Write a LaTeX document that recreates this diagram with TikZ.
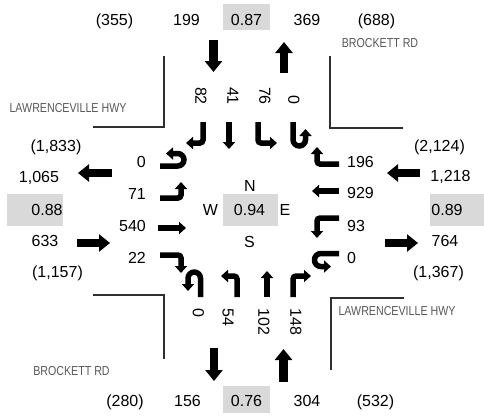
\documentclass[tikz,border=0pt]{standalone}
\usepackage{fontspec}
\setmainfont{Liberation Sans}
\newfontfamily\narrowfont[FakeStretch=0.82]{Liberation Sans}
\usetikzlibrary{arrows.meta}
\definecolor{cellgray}{HTML}{D9D9D9}
\definecolor{streetgray}{HTML}{595959}
\definecolor{linegray}{HTML}{303030}
\begin{document}
\begin{tikzpicture}[x=1pt,y=-1pt,
  num/.style={font=\fontsize{16}{19}\selectfont, inner sep=0pt, anchor=base},
  numr/.style={num, anchor=base east},
  numl/.style={num, anchor=base west},
  vtop/.style={font=\fontsize{16}{19}\selectfont, inner sep=0pt, rotate=-90, anchor=west},
  vbot/.style={font=\fontsize{16}{19}\selectfont, inner sep=0pt, rotate=-90, anchor=east},
  street/.style={font=\narrowfont\fontsize{13}{15}\selectfont, text=streetgray, inner sep=0pt},
  corner/.style={line width=2pt, draw=linegray},
  big/.style={line width=8.5pt, -{Triangle[width=17pt,length=11pt]}},
  mv/.style={line width=5.5pt, rounded corners=3pt, -{Triangle[width=12pt,length=7pt]}},
  uturn/.style={line width=5.5pt, rounded corners=6.3pt, -{Triangle[width=12pt,length=7pt]}}]
\useasboundingbox (0,0) rectangle (484,416);
\fill[white] (0,0) rectangle (484,416);

% shaded cells
\fill[cellgray] (223,4) rectangle (270,30);
\fill[cellgray] (223,386) rectangle (270,413);
\fill[cellgray] (7,194) rectangle (63,226);
\fill[cellgray] (430,194) rectangle (484,226);
\fill[cellgray] (222.7,194) rectangle (278,226);

% street corners
\draw[corner] (164,56) -- (164,127) -- (93,127);
\draw[corner] (330.3,56) -- (330.3,127.5) -- (403,127.5);
\draw[corner] (93,295.3) -- (164,295.3) -- (164,359.3);
\draw[corner] (404,297.7) -- (331,297.7) -- (331,370);

% street names
\node[street] (nwst) at (68,108) {LAWRENCEVILLE HWY};
\node[street] (nest) at (380,43) {BROCKETT RD};
\node[street] (swst) at (71.5,371) {BROCKETT RD};
\node[street] (sest) at (397,311) {LAWRENCEVILLE HWY};

% top row
\node[num] (t1) at (114.5,25) {(355)};
\node[num] (t2) at (186.5,25) {199};
\node[num] (t3) at (246.5,25) {0.87};
\node[num] (t4) at (307,25) {369};
\node[num] (t5) at (376.5,25) {(688)};
% bottom row
\node[num] (b1) at (125,406) {(280)};
\node[num] (b2) at (187.5,406) {156};
\node[num] (b3) at (246.5,406) {0.76};
\node[num] (b4) at (307,406) {304};
\node[num] (b5) at (375.5,406) {(532)};
% left column
\node[num] (l1) at (56,151) {(1,833)};
\node[num] (l2) at (39,182) {1,065};
\node[num] (l3) at (47,215) {0.88};
\node[num] (l4) at (45,246.7) {633};
\node[num] (l5) at (57.5,277) {(1,157)};
% right column
\node[num] (r1) at (439.5,151) {(2,124)};
\node[num] (r2) at (450.5,181.7) {1,218};
\node[num] (r3) at (447,215) {0.89};
\node[num] (r4) at (445,246.7) {764};
\node[num] (r5) at (438.5,277) {(1,367)};
% centre
\node[num] (cn) at (250,191) {N};
\node[num] (cw) at (210.5,215) {W};
\node[num] (cc) at (249.5,215) {0.94};
\node[num] (ce) at (285,215) {E};
\node[num] (cs) at (249.5,247) {S};

% west approach labels
\node[numr] (w1) at (146,167) {0};
\node[numr] (w2) at (146,199) {71};
\node[numr] (w3) at (146,231.5) {540};
\node[numr] (w4) at (146,263) {22};
% east approach labels
\node[numl] (e1) at (347,167) {196};
\node[numl] (e2) at (347,198) {929};
\node[numl] (e3) at (347,231) {93};
\node[numl] (e4) at (347,263) {0};
% north approach labels
\node[vbot] (n1) at (201,105) {82};
\node[vbot] (n2) at (233,105) {41};
\node[vbot] (n3) at (265,105) {76};
\node[vbot] (n4) at (294,105) {0};
% south approach labels
\node[vtop] (s1) at (198.5,308) {0};
\node[vtop] (s2) at (228,308) {54};
\node[vtop] (s3) at (264,308) {102};
\node[vtop] (s4) at (296,308) {148};

% big approach arrows
\draw[big] (213.5,40) -- (213.5,72);
\draw[big] (284,73) -- (284,42);
\draw[big] (214,348) -- (214,381);
\draw[big] (283.5,382) -- (283.5,349);
\draw[big] (112,173) -- (78,173);
\draw[big] (77,243) -- (110,243);
\draw[big] (420,173) -- (387,173);
\draw[big] (385,243) -- (418,243);

% eastbound movements (west approach)
\draw[uturn] (160,166) -- (184,166) -- (184,153.5) -- (166,153.5);
\draw[mv] (160,198) -- (181,198) -- (181,182);
\draw[mv] (158,228) -- (186,228);
\draw[mv] (160,255) -- (181,255) -- (181,273);

% southbound movements (north approach)
\draw[mv] (203,122) -- (203,143) -- (186,143);
\draw[mv] (229,122) -- (229,149);
\draw[mv] (258,122) -- (258,143) -- (277,143);
\draw[uturn] (293,122) -- (293,146) -- (305.5,146) -- (305.5,129);

% northbound movements (south approach)
\draw[uturn] (200.5,297) -- (200.5,272) -- (188,272) -- (188,291);
\draw[mv] (237,297) -- (237,276) -- (221,276);
\draw[mv] (267,297) -- (267,271);
\draw[mv] (293,297) -- (293,276) -- (311,276);

% westbound movements (east approach)
\draw[mv] (339,164) -- (317,164) -- (317,147);
\draw[mv] (339,191) -- (312,191);
\draw[mv] (339,218) -- (317,218) -- (317,238);
\draw[uturn] (339,253.5) -- (314.5,253.5) -- (314.5,266.5) -- (331,266.5);
\end{tikzpicture}
\end{document}
